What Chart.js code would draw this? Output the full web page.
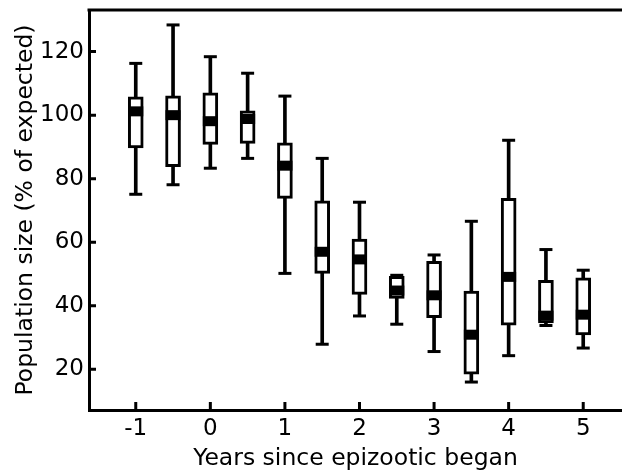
<!DOCTYPE html>
<html>
<head>
<meta charset="utf-8">
<script src="https://cdn.jsdelivr.net/npm/chart.js@4.4.1/dist/chart.umd.min.js"></script>
<style>
    body { margin: 0; background: #fff; }
    #wrap { width: 622px; height: 475px; }
</style>
</head>
<body>
<div id="wrap"><canvas id="boxChart" width="622" height="475"></canvas></div>
<script>
// years since the epizootic began, one box every half year
const years = [-1, -0.5, 0, 0.5, 1, 1.5, 2, 2.5, 3, 3.5, 4, 4.5, 5];
const whiskerLow  = [75.1, 78.1, 83.3, 86.4, 50.2, 27.9, 36.8, 34.2, 25.6, 16.0, 24.3, 33.8, 26.7];
const boxLow      = [89.7, 83.8, 90.8, 91.1, 73.8, 50.2, 43.6, 42.3, 36.3, 18.5, 33.9, 34.6, 30.8];
const medians     = [101.2, 100.0, 98.1, 98.8, 84.1, 57.0, 54.6, 44.8, 43.3, 30.9, 49.1, 36.9, 37.2];
const boxHigh     = [105.8, 106.1, 107.0, 101.4, 91.3, 73.0, 61.0, 49.3, 54.0, 44.6, 73.8, 48.0, 48.8];
const whiskerHigh = [116.3, 128.4, 118.4, 113.2, 106.0, 86.4, 72.6, 49.6, 56.0, 66.6, 92.1, 57.7, 51.2];

const xTicks = [-1, 0, 1, 2, 3, 4, 5];
const yTicks = [20, 40, 60, 80, 100, 120];

const fontFamily = '"DejaVu Sans", Arial, sans-serif';

// inward tick marks + top frame line
const frameTicks = {
    id: 'frameTicks',
    afterDraw(chart) {
        const { ctx, chartArea, scales: { x, y } } = chart;
        ctx.save();
        ctx.strokeStyle = '#000';
        ctx.lineWidth = 3;
        ctx.beginPath();
        xTicks.forEach(v => {
            const px = x.getPixelForValue(v);
            ctx.moveTo(px, chartArea.bottom);
            ctx.lineTo(px, chartArea.bottom - 8);
        });
        yTicks.forEach(v => {
            const py = y.getPixelForValue(v);
            ctx.moveTo(chartArea.left, py);
            ctx.lineTo(chartArea.left + 7, py);
        });
        ctx.moveTo(chartArea.left - 1.5, chartArea.top);
        ctx.lineTo(chartArea.right, chartArea.top);
        ctx.stroke();
        ctx.restore();
    }
};

const ctx = document.getElementById('boxChart').getContext('2d');
new Chart(ctx, {
    type: 'bar',
    data: {
        datasets: [
            {
                // median band
                type: 'scatter',
                data: years.map((x, i) => ({ x: x, y: medians[i] })),
                pointStyle: 'line',
                radius: 7.5,
                borderWidth: 10,
                borderColor: '#000',
                order: 0
            },
            {
                // whisker caps
                type: 'scatter',
                data: years.map((x, i) => ({ x: x, y: whiskerLow[i] }))
                    .concat(years.map((x, i) => ({ x: x, y: whiskerHigh[i] }))),
                pointStyle: 'line',
                radius: 6.5,
                borderWidth: 3,
                borderColor: '#000',
                order: 1
            },
            {
                // box (interquartile range)
                data: years.map((x, i) => ({ x: x, y: [boxLow[i], boxHigh[i]] })),
                backgroundColor: '#fff',
                borderColor: '#000',
                borderWidth: 3,
                borderSkipped: false,
                barThickness: 15,
                grouped: false,
                order: 2
            },
            {
                // whisker stem
                data: years.map((x, i) => ({ x: x, y: [whiskerLow[i], whiskerHigh[i]] })),
                backgroundColor: '#000',
                borderWidth: 0,
                barThickness: 3,
                grouped: false,
                order: 3
            }
        ]
    },
    options: {
        responsive: false,
        animation: false,
        layout: { autoPadding: false, padding: { top: 10, right: 0, left: 0, bottom: 0 } },
        plugins: {
            legend: { display: false },
            tooltip: { enabled: false }
        },
        scales: {
            x: {
                type: 'linear',
                offset: false,
                min: -1.627,
                max: 5.52,
                afterBuildTicks: scale => { scale.ticks = xTicks.map(v => ({ value: v })); },
                afterFit: scale => {
                    scale.height = 65;
                    scale.paddingLeft = 0;
                    scale.paddingRight = 0;
                },
                grid: { display: false, drawTicks: false, offset: false },
                border: { display: true, color: '#000', width: 3 },
                ticks: {
                    color: '#000',
                    padding: 5,
                    maxRotation: 0,
                    font: { family: fontFamily, size: 23 }
                },
                title: {
                    display: true,
                    text: 'Years since epizootic began',
                    color: '#000',
                    padding: { top: 0, bottom: 2 },
                    font: { family: fontFamily, size: 23.5 }
                }
            },
            y: {
                min: 7.2,
                max: 133.1,
                afterBuildTicks: scale => { scale.ticks = yTicks.map(v => ({ value: v })); },
                afterFit: scale => {
                    scale.width = 89;
                    scale.paddingTop = 0;
                    scale.paddingBottom = 0;
                },
                grid: { display: false, drawTicks: false },
                border: { display: true, color: '#000', width: 3 },
                ticks: {
                    color: '#000',
                    padding: 5,
                    font: { family: fontFamily, size: 23 }
                },
                title: {
                    display: true,
                    text: 'Population size (% of expected)',
                    color: '#000',
                    padding: { top: 12, bottom: 0 },
                    font: { family: fontFamily, size: 23.5 }
                }
            }
        }
    },
    plugins: [frameTicks]
});
</script>
</body>
</html>
